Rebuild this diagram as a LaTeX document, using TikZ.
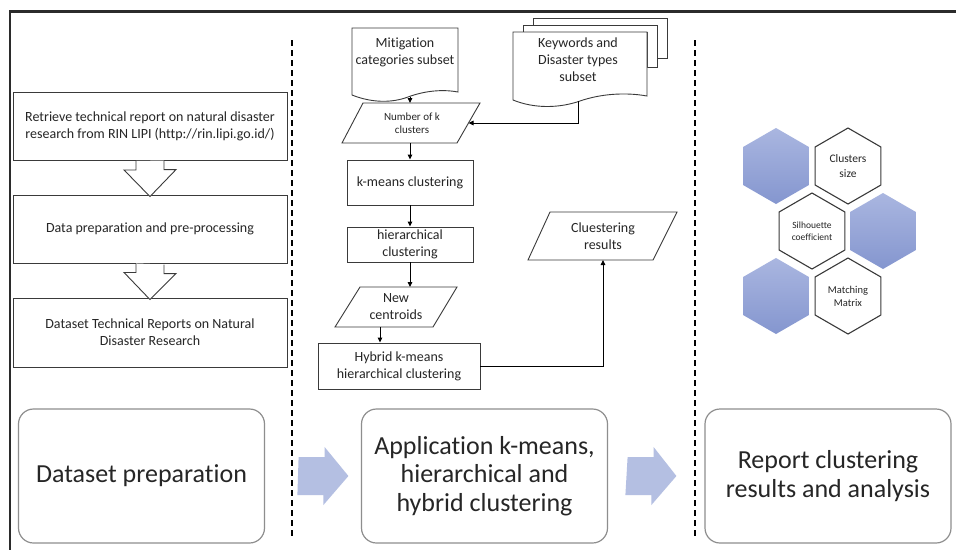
\documentclass[tikz,border=0pt]{standalone}
\usepackage{fontspec}
\setmainfont{Carlito}[Ligatures={NoCommon}]
\usetikzlibrary{arrows.meta}
\definecolor{framec}{HTML}{2B2B2B}
\definecolor{boxc}{HTML}{3A3A3A}
\definecolor{roundc}{HTML}{8E8E8E}
\definecolor{blockc}{RGB}{180,191,226}
\definecolor{hextop}{RGB}{170,182,224}
\definecolor{hexbot}{RGB}{132,150,207}
\definecolor{txt}{HTML}{262626}
\begin{document}
\begin{tikzpicture}[x=1pt,y=-1pt,
  every node/.style={text=txt},
  procbox/.style={draw=boxc, line width=0.9pt, fill=white, align=center, inner sep=0pt,
    font=\fontsize{14}{17}\selectfont},
  lbl/.style={align=center, inner sep=0pt, font=\fontsize{14}{17}\selectfont},
  smalllbl/.style={align=center, inner sep=0pt, font=\fontsize{11}{13.5}\selectfont},
  hexlbl/.style={align=center, inner sep=0pt},
  shapeline/.style={draw=boxc, line width=0.9pt, fill=white},
  hollow/.style={draw=boxc, line width=0.9pt, fill=white},
  arr/.style={draw=black, line width=0.9pt, -{Triangle[length=5pt,width=4.5pt]}},
  divider/.style={draw=black, line width=1.8pt, dash pattern=on 6pt off 4pt},
  stage/.style={draw=roundc, line width=1.2pt, rounded corners=15pt, fill=white, align=center,
    inner sep=0pt, minimum width=246pt, minimum height=134pt, font=\fontsize{26}{28.5}\selectfont},
  block/.style={fill=blockc, draw=none},
  hexw/.style={draw=boxc, line width=1.1pt, fill=white},
  hexf/.style={draw=none, top color=hextop, bottom color=hexbot}
]
\useasboundingbox (0,0) rectangle (956,550);
\fill[white] (0,0) rectangle (956,550);

% outer frame (only top and left visible)
\draw[framec, line width=3pt] (9,11) -- (956,11);
\draw[framec, line width=2pt] (10,11) -- (10,550);

% dividers
\coordinate (d1t) at (292,40); \coordinate (d1b) at (292,536);
\coordinate (d2t) at (695,40); \coordinate (d2b) at (695,536);
\draw[divider] (d1t) -- (d1b);
\draw[divider] (d2t) -- (d2b);

% ---------------- left column ----------------
\node[procbox, minimum width=274pt, minimum height=68pt] (l1) at (150,126.5)
  {Retrieve technical report on natural disaster\\research from RIN LIPI (http://rin.lipi.go.id/)};
\node[procbox, minimum width=274pt, minimum height=68pt] (l2) at (150,229)
  {Data preparation and pre-processing};
\node[procbox, minimum width=274pt, minimum height=69pt] (l3) at (150,332.5)
  {Dataset Technical Reports on Natural\\Disaster Research};
\draw[hollow] (l1.south) ++(-14,0) -- ++(0,9) -- ++(-12,0) -- ([yshift=-2pt]l2.north)
  -- ++(26,-27) -- ++(-12,0) -- ++(0,-9);
\draw[hollow] (l2.south) ++(-14,0) -- ++(0,9) -- ++(-12,0) -- ([yshift=-2pt]l3.north)
  -- ++(26,-26) -- ++(-12,0) -- ++(0,-9);

% ---------------- middle column ----------------
% Mitigation document
\draw[shapeline] (352,95) -- (352,28) -- (458,28) -- (458,92)
  .. controls (442,89) and (424,91) .. (408,97)
  .. controls (392,103) and (372,103) .. (352,95) -- cycle;
\node[lbl] (mit) at (405,52) {Mitigation\\categories subset};
\coordinate (mitb) at (410,97);

% Keywords multi-document
\draw[shapeline] (533,25) -- (533,18) -- (667,18) -- (667,58) -- (657,58) -- (657,25) -- cycle;
\draw[shapeline] (523,32) -- (523,25) -- (657,25) -- (657,67) -- (647,67) -- (647,32) -- cycle;
\draw[shapeline] (513,100) -- (513,32) -- (647,32) -- (647,96)
  .. controls (625,92) and (600,94) .. (580,101)
  .. controls (560,108) and (535,109) .. (513,100) -- cycle;
\node[lbl] (kw) at (578,60) {Keywords and\\Disaster types\\subset};
\coordinate (kwb) at (578,101);

% Number of k clusters
\draw[shapeline] (342,143) -- (363,103) -- (480,103) -- (457,143) -- cycle;
\node[smalllbl] (nk) at (412,123) {Number of k\\clusters};
\coordinate (nkt) at (410,103);
\coordinate (nkb) at (410,143);
\coordinate (nkr) at (468.5,123);

% k-means
\node[procbox, minimum width=126pt, minimum height=45pt] (km) at (410,182.5) {k-means clustering};
% hierarchical
\node[procbox, minimum width=126pt, minimum height=35pt] (hc) at (410,244.5) {hierarchical\\clustering};

% New centroids
\draw[shapeline] (335,327) -- (360,287) -- (457,287) -- (433,327) -- cycle;
\node[lbl] (nc) at (396,307) {New\\centroids};
\coordinate (nct) at (410,287);
\coordinate (ncb) at (380,327);

% Hybrid
\node[procbox, minimum width=162pt, minimum height=46pt] (hy) at (399,366) {Hybrid k-means\\hierarchical clustering};

% Clustering results
\draw[shapeline] (528,260) -- (550,212) -- (677,212) -- (653,260) -- cycle;
\node[lbl] (cr) at (603,236) {Cluestering\\results};
\coordinate (crb) at (603,260);

% connectors
\draw[arr] (mitb) -- (nkt);
\draw[arr] (kwb) |- (nkr);
\draw[arr] (nkb) -- (km.north);
\draw[arr] (km.south) -- (hc.north);
\draw[arr] (hc.south) -- (nct);
\draw[arr] (ncb) -- (ncb |- hy.north);
\draw[arr] (hy.east) -| (crb);

% ---------------- right column: hexagons ----------------
\def\hexR{38}
\foreach \cx/\cy/\st in {776/166/hexf, 883/231/hexf, 776/296/hexf}{
  \path[\st] (\cx,\cy) +(90:\hexR) -- +(150:\hexR) -- +(210:\hexR) -- +(270:\hexR) -- +(330:\hexR) -- +(30:\hexR) -- cycle;
}
\foreach \cx/\cy in {848/166, 812/231, 848/296}{
  \draw[hexw] (\cx,\cy) +(90:\hexR) -- +(150:\hexR) -- +(210:\hexR) -- +(270:\hexR) -- +(330:\hexR) -- +(30:\hexR) -- cycle;
}
\node[hexlbl, font=\fontsize{11.5}{15}\selectfont] (h1) at (848,166) {Clusters\\size};
\node[hexlbl, font=\fontsize{9.5}{12.5}\selectfont] (h2) at (812,231) {Silhouette\\coefficient};
\node[hexlbl, font=\fontsize{10.5}{13}\selectfont] (h3) at (848,296) {Matching\\Matrix};

% ---------------- bottom stages ----------------
\node[stage] (s1) at (141.5,476) {Dataset preparation};
\node[stage] (s2) at (484.5,476) {Application k-means,\\hierarchical and\\hybrid clustering};
\node[stage] (s3) at (828,476) {Report clustering\\results and analysis};

\path[block] (s1.east) ++(33.5,-19) -- ++(26,0) -- ++(0,-10) -- ([xshift=-12.5pt]s2.west)
  -- ++(-25,29) -- ++(0,-10) -- ++(-26,0) -- cycle;
\path[block] (s2.east) ++(19.5,-19) -- ++(26,0) -- ++(0,-10) -- ([xshift=-28pt]s3.west)
  -- ++(-25,29) -- ++(0,-10) -- ++(-26,0) -- cycle;
\end{tikzpicture}
\end{document}
